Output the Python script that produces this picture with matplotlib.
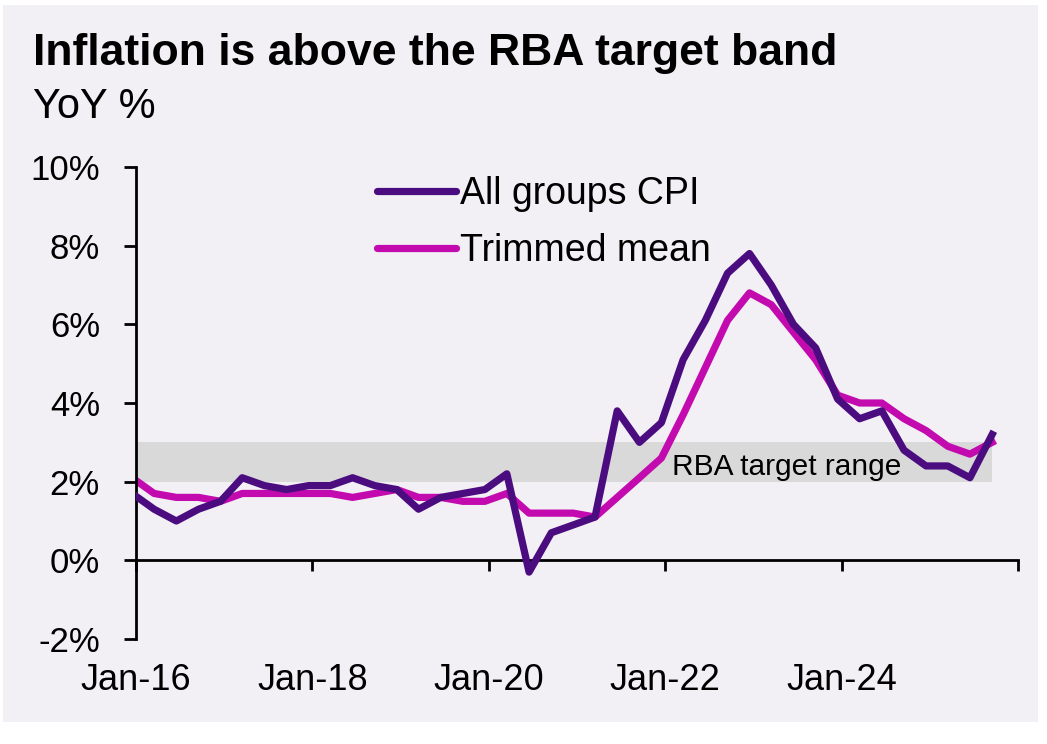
import pandas as pd
import matplotlib
matplotlib.use('Agg')
import matplotlib.pyplot as plt
import matplotlib.dates as mdates
from matplotlib.patches import Rectangle

plt.rcParams['font.family'] = ['Liberation Sans', 'DejaVu Sans']

# Quarterly data, Dec-15 to Sep-25 (YoY %)
quarters = pd.date_range('2015-12-01', '2025-09-01', freq='3MS')
cpi = [1.7, 1.3, 1.0, 1.3, 1.5, 2.1, 1.9, 1.8, 1.9, 1.9,
       2.1, 1.9, 1.8, 1.3, 1.6, 1.7, 1.8, 2.2, -0.3, 0.7,
       0.9, 1.1, 3.8, 3.0, 3.5, 5.1, 6.1, 7.3, 7.8, 7.0,
       6.0, 5.4, 4.1, 3.6, 3.8, 2.8, 2.4, 2.4, 2.1, 3.2]
trimmed = [2.1, 1.7, 1.6, 1.6, 1.5, 1.7, 1.7, 1.7, 1.7, 1.7,
           1.6, 1.7, 1.8, 1.6, 1.6, 1.5, 1.5, 1.7, 1.2, 1.2,
           1.2, 1.1, 1.6, 2.1, 2.6, 3.7, 4.9, 6.1, 6.8, 6.5,
           5.8, 5.1, 4.2, 4.0, 4.0, 3.6, 3.3, 2.9, 2.7, 3.0]
band_low, band_high = 2, 3
tick_dates = ['2016-01-01', '2018-01-01', '2020-01-01', '2022-01-01', '2024-01-01', '2026-01-01']
tick_labels = ['Jan-16', 'Jan-18', 'Jan-20', 'Jan-22', 'Jan-24', '']
y_ticks = [-2, 0, 2, 4, 6, 8, 10]

# plot points sit mid-month like the Excel date axis
dates = quarters + pd.Timedelta(days=15)

W, H = 1047, 744
fig = plt.figure(figsize=(W / 100, H / 100), dpi=100, facecolor='white')
fig.patches.append(Rectangle((3 / W, 1 - 722 / H), 1035 / W, 717 / H,
                             transform=fig.transFigure, facecolor='#F2F0F5',
                             edgecolor='none', zorder=-10))

ax = fig.add_axes([136 / W, 1 - 639 / H, 882 / W, 472 / H])
ax.set_facecolor('none')

ax.fill_between(dates, band_low, band_high, color='#D9D9D9', lw=0, zorder=1)
ax.plot(dates, cpi, color='#4B0C80', lw=5.2, solid_joinstyle='round',
        label='All groups CPI', zorder=3)
ax.plot(dates, trimmed, color='#C20AAF', lw=5.2, solid_joinstyle='round',
        label='Trimmed mean', zorder=2)

ax.set_xlim(pd.Timestamp('2016-01-01'), pd.Timestamp('2026-01-01'))
ax.set_ylim(-2, 10)
ax.set_yticks(y_ticks)
ax.set_yticklabels([f'{v}%' for v in y_ticks])
ax.set_xticks(mdates.datestr2num(tick_dates))
ax.set_xticklabels(tick_labels)

for s in ['top', 'right']:
    ax.spines[s].set_visible(False)
ax.spines['bottom'].set_position(('data', 0))
ax.spines['bottom'].set_linewidth(2)
ax.spines['left'].set_linewidth(2)
ax.tick_params(axis='y', direction='out', length=9, width=2, pad=17, labelsize=25)
ax.tick_params(axis='x', direction='out', length=8, width=2, pad=66, labelsize=26)

ax.text(0.608, 0.347, 'RBA target range', transform=ax.transAxes,
        fontsize=21.5, va='baseline', ha='left', zorder=4)

leg = ax.legend(loc='upper left', bbox_to_anchor=(377 / W, 1 - 176 / H),
                bbox_transform=fig.transFigure, frameon=False, fontsize=27,
                handlelength=2.1, handletextpad=0.12, labelspacing=0.55,
                borderpad=0, borderaxespad=0)
for line in leg.get_lines():
    line.set_solid_capstyle('round')

fig.text(33 / W, 1 - 65 / H, 'Inflation is above the RBA target band',
         fontsize=32, fontweight='bold', va='baseline', ha='left')
fig.text(33 / W, 1 - 118 / H, 'YoY %', fontsize=30, va='baseline', ha='left')

fig.savefig('out.png', dpi=100, facecolor='white')
plt.close(fig)
